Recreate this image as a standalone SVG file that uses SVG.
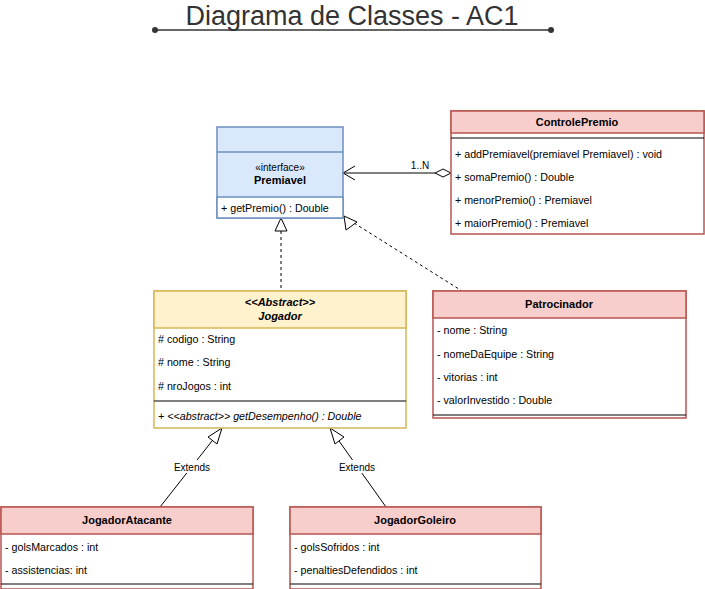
<svg xmlns="http://www.w3.org/2000/svg" width="705" height="589" viewBox="0 0 705 589">
<defs>
<style>
text{font-family:"Liberation Sans",Arial,sans-serif;font-size:11px;fill:#000}
.t{font-size:27px;fill:#333;text-anchor:middle}
.c{text-anchor:middle}
.b{font-weight:bold}
.i{font-style:italic}
.blue{fill:#dae8fc;stroke:#6c8ebf;stroke-width:1.5}
.yel{fill:#fff2cc;stroke:#d6b656;stroke-width:1.5}
.red{fill:#f8cecc;stroke:#b85450;stroke-width:1.5}
.wb{fill:#fff;stroke:#6c8ebf;stroke-width:1.5}
.wy{fill:#fff;stroke:#d6b656;stroke-width:1.5}
.wr{fill:#fff;stroke:#b85450;stroke-width:1.5}
.sep{stroke:#000;stroke-width:1}
.e{fill:none;stroke:#000;stroke-width:1}
.d{fill:none;stroke:#000;stroke-width:1;stroke-dasharray:3 3}
.lbl{font-size:10px}
.m{font-size:10.7px}
</style>
</defs>
<g id="title">
<text class="t" x="352" y="25">Diagrama de Classes - AC1</text>
<line x1="155" y1="30" x2="551" y2="30" stroke="#333" stroke-width="1.5"/>
<circle cx="155" cy="30" r="3" fill="#333"/>
<circle cx="551" cy="30" r="3" fill="#333"/>
</g>
<g id="connectors">
<line class="d" x1="281" y1="231" x2="281" y2="291"/>
<polygon points="281,218 275,231 287,231" fill="#fff" stroke="#000"/>
<line class="d" x1="354" y1="223" x2="462" y2="291"/>
<polygon points="344,216 346,230 357,222" fill="#fff" stroke="#000"/>
<line class="e" x1="343" y1="173" x2="435" y2="173"/>
<polyline class="e" points="355,166 343,173 355,180"/>
<polygon points="435,173 443,169 451,173 443,177" fill="#fff" stroke="#000"/>
<text x="420" y="169" class="c lbl">1..N</text>
<line class="e" x1="160" y1="507" x2="212" y2="441"/>
<polygon points="222,428 208,437 217,444" fill="#fff" stroke="#000"/>
<line class="e" x1="386" y1="507" x2="339" y2="441"/>
<polygon points="330,428 335,444 344,437" fill="#fff" stroke="#000"/>
<rect x="171" y="460" width="42" height="13" fill="#fff"/>
<text x="192" y="471" class="c lbl">Extends</text>
<rect x="336" y="460" width="42" height="13" fill="#fff"/>
<text x="357" y="471" class="c lbl">Extends</text>
</g>
<g id="Premiavel">
<rect class="blue" x="217" y="127" width="126" height="91"/>
<line x1="217" y1="152" x2="343" y2="152" stroke="#6c8ebf" stroke-width="1.5"/>
<rect class="wb" x="217" y="197" width="126" height="21"/>
<text x="280" y="171" class="c" style="font-size:10px">«interface»</text>
<text x="280" y="184" class="c b">Premiavel</text>
<text x="221" y="212" class="m">+ getPremio() : Double</text>
</g>
<g id="ControlePremio">
<rect class="wr" x="451" y="111" width="253" height="123"/>
<rect class="red" x="451" y="111" width="253" height="22"/>
<line class="sep" x1="451" y1="138" x2="704" y2="138"/>
<text x="577" y="126" class="c b">ControlePremio</text>
<text x="455" y="158" class="m">+ addPremiavel(premiavel Premiavel) : void</text>
<text x="455" y="181" class="m">+ somaPremio() : Double</text>
<text x="455" y="204" class="m">+ menorPremio() : Premiavel</text>
<text x="455" y="227" class="m">+ maiorPremio() : Premiavel</text>
</g>
<g id="Jogador">
<rect class="wy" x="154" y="291" width="252" height="137"/>
<rect class="yel" x="154" y="291" width="252" height="37"/>
<line class="sep" x1="154" y1="401" x2="406" y2="401"/>
<text x="280" y="306" class="c b i">&lt;&lt;Abstract&gt;&gt;</text>
<text x="280" y="320" class="c b i">Jogador</text>
<text x="158" y="343" class="m"># codigo : String</text>
<text x="158" y="366" class="m"># nome : String</text>
<text x="158" y="390" class="m"># nroJogos : int</text>
<text x="158" y="420" class="i m">+ &lt;&lt;abstract&gt;&gt; getDesempenho() : Double</text>
</g>
<g id="Patrocinador">
<rect class="wr" x="433" y="291" width="253" height="127"/>
<rect class="red" x="433" y="291" width="253" height="27"/>
<line class="sep" x1="433" y1="415" x2="686" y2="415"/>
<text x="559" y="308" class="c b">Patrocinador</text>
<text x="437" y="334" class="m">- nome : String</text>
<text x="437" y="358" class="m">- nomeDaEquipe : String</text>
<text x="437" y="381" class="m">- vitorias : int</text>
<text x="437" y="404" class="m">- valorInvestido : Double</text>
</g>
<g id="JogadorAtacante">
<rect class="wr" x="1" y="507" width="252" height="82"/>
<rect class="red" x="1" y="507" width="252" height="27"/>
<line class="sep" x1="1" y1="584" x2="253" y2="584"/>
<text x="127" y="524" class="c b">JogadorAtacante</text>
<text x="5" y="551" class="m">- golsMarcados : int</text>
<text x="5" y="574" class="m">- assistencias: int</text>
</g>
<g id="JogadorGoleiro">
<rect class="wr" x="290" y="507" width="251" height="82"/>
<rect class="red" x="290" y="507" width="251" height="27"/>
<line class="sep" x1="290" y1="584" x2="541" y2="584"/>
<text x="415" y="524" class="c b">JogadorGoleiro</text>
<text x="294" y="551" class="m">- golsSofridos : int</text>
<text x="294" y="574" class="m">- penaltiesDefendidos : int</text>
</g>
</svg>
